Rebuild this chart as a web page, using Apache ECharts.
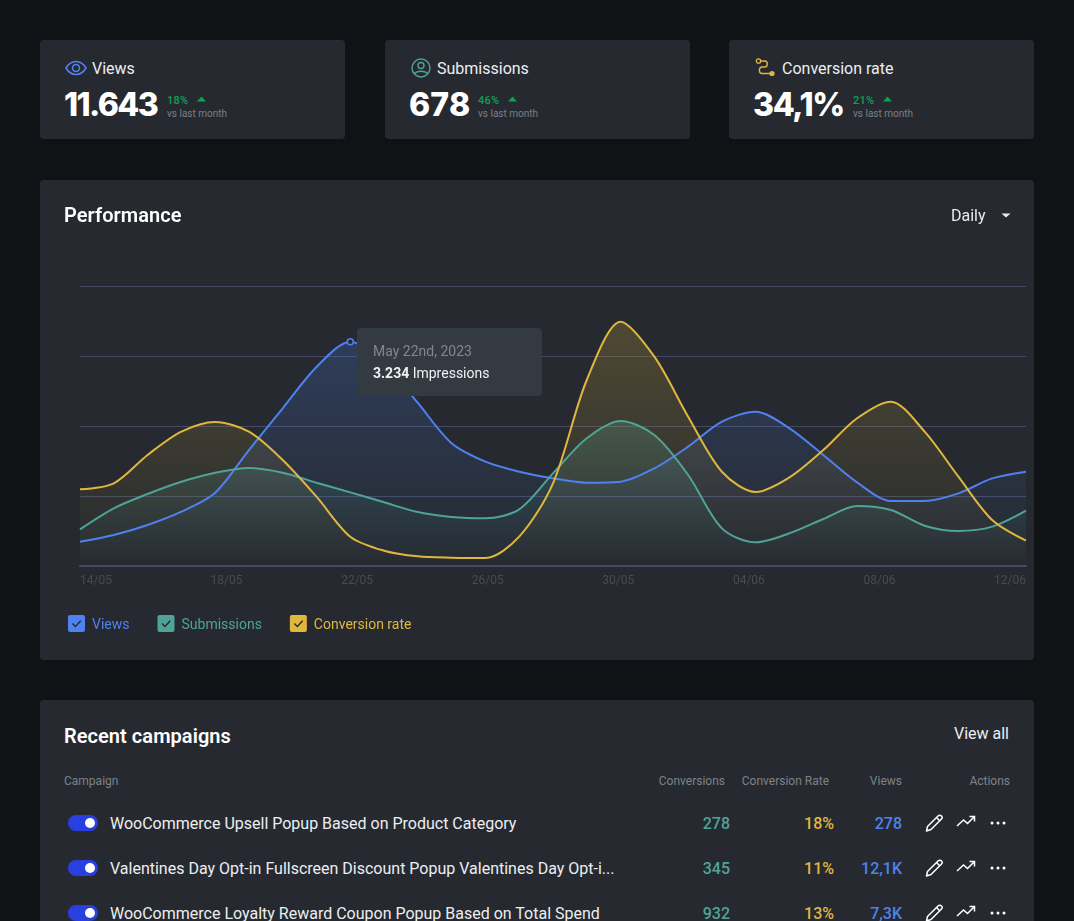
<!DOCTYPE html>
<html>
<head>
<meta charset="utf-8">
<title>Performance</title>
<script src="https://cdn.jsdelivr.net/npm/echarts@6/dist/echarts.min.js"></script>
<style>
html, body { margin: 0; padding: 0; width: 1074px; height: 921px; overflow: hidden; background: #0f1316; font-family: Roboto, sans-serif; color: #fff; }
.card { position: absolute; background: #262a30; border-radius: 4px; }
.abs { position: absolute; white-space: nowrap; line-height: 1; }
.stat-value { font-family: Inter, sans-serif; font-weight: 800; font-size: 32px; }
.stat-delta { font-size: 11px; font-weight: 500; color: #0fa155; letter-spacing: 0.3px; }
.stat-sub { font-size: 10px; color: #7b7f86; }
.th { font-size: 12px; color: #7f8287; text-align: right; }
.num { font-size: 16px; font-weight: 500; text-align: right; }
.title { font-size: 20px; font-weight: 600; letter-spacing: 0.05px; }
#chart { position: absolute; left: 40px; top: 180px; width: 994px; height: 480px; }
</style>
</head>
<body>
<div class="card" style="left:40px;top:40px;width:305px;height:99px"></div>
<div class="card" style="left:385px;top:40px;width:305px;height:99px"></div>
<div class="card" style="left:729px;top:40px;width:305px;height:99px"></div>
<div class="card" style="left:40px;top:180px;width:994px;height:480px"></div>
<div class="card" style="left:40px;top:700px;width:994px;height:300px"></div>
<div id="chart"></div>
<div id="ui"></div>
<script>
var BLUE = '#4f82ee', TEAL = '#4fa397', YELLOW = '#e0b73e', CARD = '#262a30';

// chart data at evenly spaced points along the x axis
var tickDates = ['14/05', '18/05', '22/05', '26/05', '30/05', '04/06', '08/06', '12/06'];
var views = [347, 443, 586, 776, 1047, 1657, 2253, 2843, 3204, 2900, 2329, 1753, 1490, 1347, 1253, 1190, 1205, 1395, 1705, 2062, 2205, 1967, 1586, 1195, 929, 929, 1038, 1252, 1348];
var submissions = [524, 824, 1029, 1204, 1333, 1400, 1333, 1190, 1052, 910, 771, 700, 681, 810, 1324, 1824, 2071, 1871, 1300, 538, 338, 467, 671, 857, 800, 576, 500, 562, 790];
var conversionRate = [1096, 1181, 1586, 1919, 2057, 1919, 1514, 990, 419, 219, 138, 119, 114, 419, 1181, 2657, 3490, 2990, 2133, 1347, 1057, 1267, 1657, 2110, 2348, 1919, 1276, 657, 362];
var yTicks = [0, 1000, 2000, 3000, 4000];
var markedPoint = 8;
var tooltipDate = 'May 22nd, 2023';
var tooltipValue = '3.234';

// stat cards
var statNames = ['Views', 'Submissions', 'Conversion rate'];
var statValues = ['11.643', '678', '34,1%'];
var statDeltas = ['18%', '46%', '21%'];

// table
var tableHead = ['Conversions', 'Conversion Rate', 'Views', 'Actions'];
var campaigns = [
    'WooCommerce Upsell Popup Based on Product Category',
    'Valentines Day Opt-in Fullscreen Discount Popup Valentines Day Opt-i...',
    'WooCommerce Loyalty Reward Coupon Popup Based on Total Spend'
];
var conversions = ['278', '345', '932'];
var rates = ['18%', '11%', '13%'];
var viewCounts = ['278', '12,1K', '7,3K'];

var ui = document.getElementById('ui');
function put(html) { ui.insertAdjacentHTML('beforeend', html); }
function text(x, y, str, cls, style) {
    put('<div class="abs ' + (cls || '') + '" style="left:' + x + 'px;top:' + y + 'px;' + (style || '') + '">' + str + '</div>');
}
function textR(right, y, str, cls, style) {
    put('<div class="abs ' + (cls || '') + '" style="right:' + (1074 - right) + 'px;top:' + y + 'px;' + (style || '') + '">' + str + '</div>');
}
function svg(x, y, w, h, body) {
    put('<svg class="abs" style="left:' + x + 'px;top:' + y + 'px" width="' + w + '" height="' + h + '" viewBox="0 0 ' + w + ' ' + h + '" fill="none">' + body + '</svg>');
}

var statLeft = [40, 385, 729];
var statIcons = [
    '<path d="M1 9C4 4 7.5 2.5 11 2.5S18 4 21 9C18 14 14.500 15.500 11 15.500S4 14 1 9Z" stroke="' + BLUE + '" stroke-width="1.6"/><circle cx="11" cy="9" r="3.500" stroke="' + BLUE + '" stroke-width="1.6"/>',
    '<circle cx="10" cy="10" r="9" stroke="' + TEAL + '" stroke-width="1.4"/><circle cx="10" cy="7.500" r="3" stroke="' + TEAL + '" stroke-width="1.4"/><path d="M3.500 15.500C6 12.500 14 12.500 16.500 15.500" stroke="' + TEAL + '" stroke-width="1.4"/>',
    '<circle cx="3.500" cy="3" r="2.200" stroke="' + YELLOW + '" stroke-width="1.300"/><path d="M6 3H10C13 3 13 9 10 9H7C3.500 9 3.500 15.500 7 15.500H15" stroke="' + YELLOW + '" stroke-width="1.400"/><circle cx="17" cy="15.500" r="2.600" fill="' + YELLOW + '"/>'
];
var statIconX = [65, 411, 755];
var statIconW = [22, 20, 20];
var statIconY = [59, 58, 58];
var statSpacing = [-1.6, 0.2, -1.3];
var deltaX = [167, 478, 853];
for (var i = 0; i < 3; i++) {
    svg(statIconX[i], statIconY[i], statIconW[i], 20, statIcons[i]);
    text(statLeft[i] + (i == 2 ? 53 : 52), 61, statNames[i], '', 'font-size:16px;color:#eceef0');
    text(statLeft[i] + 24, 89, statValues[i], 'stat-value', 'letter-spacing:' + statSpacing[i] + 'px');
    text(deltaX[i], 94.500, statDeltas[i], 'stat-delta');
    svg(deltaX[i] + 30, 96, 10, 6, '<path d="M0 5.500L4.500 0.500L9 5.500Z" fill="#0fa155"/>');
    text(deltaX[i], 109, 'vs last month', 'stat-sub');
}

text(64, 205, 'Performance', 'title');
text(951, 208, 'Daily', '', 'font-size:16px;color:#e8eaec');
svg(1001, 213, 10, 5, '<path d="M0.500 0.500H9.500L5 4.500Z" fill="#e8eaec"/>');

text(64, 726, 'Recent campaigns', 'title');
textR(1009, 726, 'View all', '', 'font-size:16px;color:#eceef0');
text(64, 775, 'Campaign', 'th');
var headRight = [725, 829, 902, 1010];
for (var h = 0; h < tableHead.length; h++) {
    textR(headRight[h], 775, tableHead[h], 'th');
}
var pencil = '<path d="M2.500 12.500L13 2C14 1 15.500 1 16.500 2S17.500 4 16.500 5L6 15.500L1.500 17Z" stroke="#fff" stroke-width="1.500" stroke-linejoin="round"/><path d="M11.500 3.500L15 7" stroke="#fff" stroke-width="1.500"/>';
var trend = '<path d="M1 11L7.500 5L11.500 8.500L18 2M13.500 1.500H18.500V6.500" stroke="#fff" stroke-width="1.500"/>';
var dots = '<circle cx="2" cy="2" r="1.500" fill="#fff"/><circle cx="8" cy="2" r="1.500" fill="#fff"/><circle cx="14" cy="2" r="1.500" fill="#fff"/>';
for (var r = 0; r < campaigns.length; r++) {
    var cy = 823 + r * 45;
    svg(68, cy - 8, 30, 16, '<rect width="30" height="16" rx="8" fill="#2a3fe0"/><circle cx="22" cy="8" r="5" fill="#fff"/>');
    text(110, cy - 7, campaigns[r], '', 'font-size:16px;color:#eceef0');
    textR(730, cy - 7, conversions[r], 'num', 'color:' + TEAL);
    textR(834, cy - 7, rates[r], 'num', 'color:' + YELLOW);
    textR(902, cy - 7, viewCounts[r], 'num', 'color:' + BLUE);
    svg(925, cy - 9, 19, 18, pencil);
    svg(956, cy - 8, 20, 13, trend);
    svg(990, cy - 2, 16, 4, dots);
}

function fill(color) {
    return {
        color: new echarts.graphic.LinearGradient(0, 0, 0, 1, [
            { offset: 0, color: color },
            { offset: 1, color: color.replace(/[\d.]+\)$/, '0)') }
        ])
    };
}
function line(name, values, color, area) {
    return {
        name: name, type: 'line', data: values, smooth: 0.3, symbol: 'none', showSymbol: true,
        lineStyle: { color: color, width: 2 }, itemStyle: { color: color },
        areaStyle: fill(area), xAxisIndex: 0, yAxisIndex: 0
    };
}

var viewsData = views.map(function (v, idx) {
    if (idx != markedPoint) return v;
    return { value: v, symbol: 'circle', symbolSize: 6, itemStyle: { color: CARD, borderColor: BLUE, borderWidth: 1.5 } };
});

var checkIcon = 'path://M2 0H15Q17 0 17 2V15Q17 17 15 17H2Q0 17 0 15V2Q0 0 2 0Z M4 9L7.500 12.500L13.300 6.300L12.200 5.300L7.500 10.500L5 8Z';

var chart = echarts.init(document.getElementById('chart'), null, { renderer: 'canvas' });
chart.setOption({
    animation: false,
    grid: [
        { left: 40, right: 8, top: 106, bottom: 94 },
        { left: 56, right: 24, top: 106, bottom: 94 } // tick labels sit on their own spacing
    ],
    xAxis: [
        { type: 'category', gridIndex: 0, boundaryGap: false, axisTick: { show: false }, axisLabel: { show: false },
            axisLine: { lineStyle: { color: '#484b60', width: 2 } } },
        { type: 'category', gridIndex: 1, data: tickDates, boundaryGap: false, axisTick: { show: false }, axisLine: { show: false },
            axisLabel: { interval: 0, color: '#484b52', fontSize: 12, fontFamily: 'Roboto', margin: 9 } }
    ],
    yAxis: [
        { type: 'value', gridIndex: 0, min: yTicks[0], max: yTicks[4], interval: 1000, axisLabel: { show: false }, axisLine: { show: false }, axisTick: { show: false },
            splitLine: { lineStyle: { color: '#454961', width: 1 } } },
        { type: 'value', gridIndex: 1, show: false }
    ],
    legend: {
        left: 28, top: 435, padding: 0, icon: checkIcon, itemWidth: 17, itemHeight: 17, itemGap: 28,
        formatter: '{t|{name}}',
        textStyle: { fontSize: 14, fontFamily: 'Roboto', rich: { t: { fontSize: 14, fontFamily: 'Roboto', padding: [4, 0, 0, 2] } } },
        data: [
            { name: 'Views', textStyle: { color: BLUE } },
            { name: 'Submissions', textStyle: { color: TEAL } },
            { name: 'Conversion rate', textStyle: { color: YELLOW } }
        ]
    },
    tooltip: {
        trigger: 'item', alwaysShowContent: true, showDelay: 0, transitionDuration: 0,
        position: [317, 148], backgroundColor: '#343a41', borderWidth: 0, padding: 0,
        extraCssText: 'box-shadow:none;border-radius:4px;',
        formatter: function () {
            return '<div style="width:185px;height:68px;box-sizing:border-box;padding:12px 16px;font-family:Roboto;font-size:14px;line-height:22px">' +
                '<div style="color:#83878c">' + tooltipDate + '</div>' +
                '<div style="color:#f0f1f2"><b style="font-weight:700">' + tooltipValue + '</b> Impressions</div></div>';
        }
    },
    series: [
        line('Views', viewsData, BLUE, 'rgba(79,130,238,0.32)'),
        line('Submissions', submissions, TEAL, 'rgba(79,163,151,0.36)'),
        line('Conversion rate', conversionRate, YELLOW, 'rgba(224,183,62,0.32)')
    ]
});
chart.dispatchAction({ type: 'showTip', seriesIndex: 0, dataIndex: markedPoint });
</script>
</body>
</html>
